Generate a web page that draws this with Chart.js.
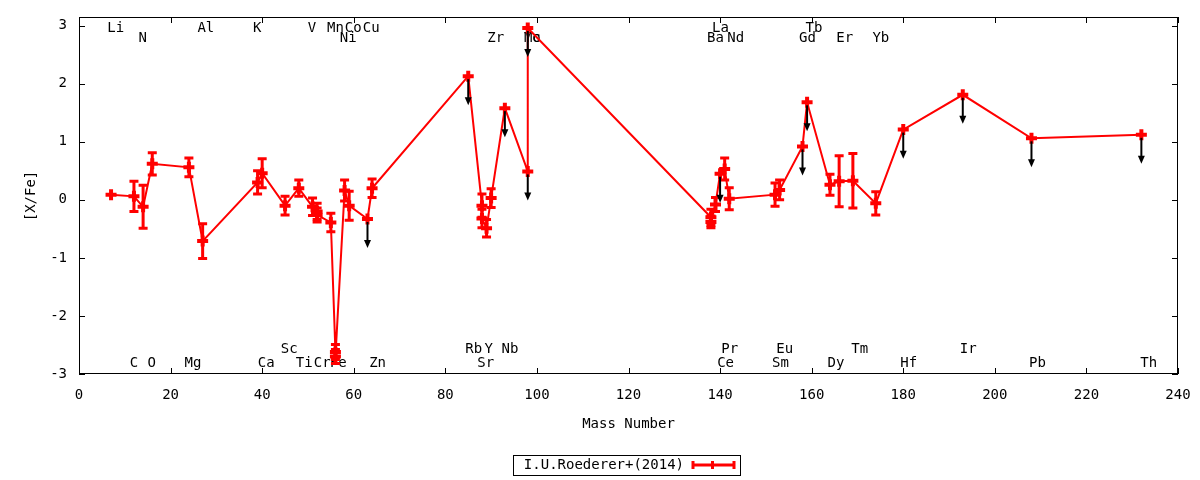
<!DOCTYPE html>
<html>
<head>
<meta charset="utf-8">
<script src="https://cdn.jsdelivr.net/npm/chart.js@4.4.1/dist/chart.umd.min.js"></script>
<style>
  body{margin:0;background:#fff}
  #wrap{width:1200px;height:480px;position:relative}
</style>
</head>
<body>
<div id="wrap"><canvas id="myChart"></canvas></div>
<script>
// 元素 / 質量數 / [X/Fe] / 誤差 / 上限 (1 = upper limit)
const elem  = ['Li','C','N','O','Mg','Al','K','Ca','Sc','Ti','V','Cr','Cr','Mn','Fe','Fe','Ni','Co','Cu','Zn',
               'Rb','Sr','Sr','Y','Zr','Nb','Mo','Tc','Ba','Ba','La','Ce','Pr','Nd','Sm','Eu','Gd','Tb',
               'Dy','Er','Tm','Yb','Hf','Ir','Pb','Th'];
const mass  = [7,12,14,16,24,27,39,40,45,48,51,52,52,55,56,56,58,59,63,64,
               85,88,88,89,90,93,98,98,138,138,139,140,141,142,152,153,158,159,
               164,166,169,174,180,193,208,232];
const xfe   = [0.09,0.06,-0.12,0.62,0.56,-0.71,0.30,0.46,-0.10,0.20,-0.12,-0.20,-0.26,-0.39,-2.62,-2.70,0.16,-0.10,-0.33,0.20,
               2.13,-0.10,-0.32,-0.49,0.03,1.58,0.49,2.96,-0.30,-0.38,-0.08,0.45,0.53,0.02,0.09,0.17,0.92,1.68,
               0.26,0.32,0.33,-0.06,1.21,1.81,1.06,1.12];
const err   = [0,0.26,0.37,0.19,0.16,0.30,0.20,0.25,0.16,0.14,0.15,0.14,0.12,0.16,0.13,0.12,0.18,0.25,0,0.16,
               0,0.20,0.16,0.15,0.16,0,0,0,0.14,0.10,0.12,0,0.19,0.19,0.20,0.17,0,0,
               0.18,0.44,0.47,0.20,0,0,0,0];
const upper = [0,0,0,0,0,0,0,0,0,0,0,0,0,0,0,0,0,0,1,0,
               1,0,0,0,0,1,1,1,0,0,0,1,0,0,0,0,1,1,
               0,0,0,0,1,1,1,1];

const xTicks = [0,20,40,60,80,100,120,140,160,180,200,220,240];
const yTicks = [-3,-2,-1,0,1,2,3];

// element name rows (top two rows, bottom two rows)
const row1Names = ['Li','Al','K','V','Mn','Co','Cu','La','Tb'];
const row1Pos   = [8,27.7,38.9,50.9,56,59.9,63.8,140.1,160.5];
const row2Names = ['N','Ni','Zr','Mo','Tc','Ba','Nd','Gd','Er','Yb'];
const row2Pos   = [13.9,58.8,91,99,99,139,143.4,159.1,167.2,175.1];
const row3Names = ['Sc','Rb','Y','Nb','Pr','Eu','Tm','Ir'];
const row3Pos   = [45.9,86.2,89.5,94.1,142.1,154.1,170.5,194.2];
const row4Names = ['C','O','Mg','Ca','Ti','Cr','Fe','Zn','Sr','Ce','Sm','Dy','Hf','Pb','Th'];
const row4Pos   = [12,15.9,24.9,40.9,49.2,53.1,56.6,65.2,88.8,141.2,153.2,165.3,181.2,209.3,233.6];
const rowY      = [2.96,2.79,-2.57,-2.81];

const FONT = "'DejaVu Sans Mono', monospace";
Chart.defaults.color = '#000';
Chart.defaults.font.family = FONT;
Chart.defaults.font.size = 14;

// 固定軸的尺寸, 不讓刻度文字去撐開
function fixScale(s, size){
  if (s.isHorizontal()) s.height = size; else s.width = size;
  s.paddingTop = 0; s.paddingBottom = 0; s.paddingLeft = 0; s.paddingRight = 0;
}

const decor = {
  id: 'decor',
  beforeDatasetsDraw(chart){
    const {ctx, scales:{x, y}} = chart;
    ctx.save();
    // 元素名
    ctx.font = '14px ' + FONT;
    ctx.fillStyle = '#000';
    ctx.textAlign = 'center';
    ctx.textBaseline = 'middle';
    const rows = [[row1Names,row1Pos],[row2Names,row2Pos],[row3Names,row3Pos],[row4Names,row4Pos]];
    rows.forEach((r,k)=>{
      r[0].forEach((n,i)=>ctx.fillText(n, x.getPixelForValue(r[1][i]), y.getPixelForValue(rowY[k])));
    });
    // error bars
    ctx.strokeStyle = '#ff0000';
    ctx.lineWidth = 3;
    mass.forEach((m,i)=>{
      if(!err[i]) return;
      const px = x.getPixelForValue(m);
      const y1 = y.getPixelForValue(xfe[i]+err[i]);
      const y2 = y.getPixelForValue(xfe[i]-err[i]);
      ctx.beginPath();
      ctx.moveTo(px,y1); ctx.lineTo(px,y2);
      ctx.moveTo(px-4.5,y1); ctx.lineTo(px+4.5,y1);
      ctx.moveTo(px-4.5,y2); ctx.lineTo(px+4.5,y2);
      ctx.stroke();
    });
    ctx.restore();
  },
  afterDatasetsDraw(chart){
    const {ctx, chartArea:a, scales:{x, y}} = chart;
    ctx.save();
    // upper limit arrows
    ctx.strokeStyle = '#000';
    ctx.fillStyle = '#000';
    ctx.lineWidth = 2;
    mass.forEach((m,i)=>{
      if(!upper[i]) return;
      const px = x.getPixelForValue(m);
      const y0 = y.getPixelForValue(xfe[i]);
      const y1 = y.getPixelForValue(xfe[i]-0.5);
      ctx.beginPath(); ctx.moveTo(px,y0+3); ctx.lineTo(px,y1-4); ctx.stroke();
      ctx.beginPath(); ctx.moveTo(px,y1); ctx.lineTo(px-3.5,y1-8); ctx.lineTo(px+3.5,y1-8); ctx.closePath(); ctx.fill();
    });
    // frame and inward ticks
    ctx.lineWidth = 1;
    ctx.strokeRect(a.left+0.5, a.top+0.5, a.right-a.left-1, a.bottom-a.top-1);
    ctx.beginPath();
    xTicks.forEach(v=>{
      const px = Math.round(x.getPixelForValue(v))+0.5;
      ctx.moveTo(px,a.bottom); ctx.lineTo(px,a.bottom-6);
      ctx.moveTo(px,a.top); ctx.lineTo(px,a.top+6);
    });
    yTicks.forEach(v=>{
      const py = Math.round(y.getPixelForValue(v))+0.5;
      ctx.moveTo(a.left,py); ctx.lineTo(a.left+6,py);
      ctx.moveTo(a.right,py); ctx.lineTo(a.right-6,py);
    });
    ctx.stroke();
    // axis titles
    ctx.font = '14px ' + FONT;
    ctx.textAlign = 'center';
    ctx.textBaseline = 'middle';
    ctx.fillText('Mass Number', (a.left+a.right)/2, 424);
    ctx.save();
    ctx.translate(31,196); ctx.rotate(-Math.PI/2);
    ctx.fillText('[X/Fe]', 0, 0);
    ctx.restore();
    // legend
    ctx.strokeRect(513.5, 455.5, 227, 20);
    ctx.textAlign = 'right';
    ctx.fillText('I.U.Roederer+(2014)', 684, 465);
    ctx.strokeStyle = '#ff0000';
    ctx.lineWidth = 3;
    ctx.beginPath();
    ctx.moveTo(692,465); ctx.lineTo(735,465);
    ctx.moveTo(693,461); ctx.lineTo(693,469);
    ctx.moveTo(734,461); ctx.lineTo(734,469);
    ctx.moveTo(712.5,461); ctx.lineTo(712.5,469);
    ctx.stroke();
    ctx.restore();
  }
};

const data = {
  datasets: [{
    label: 'I.U.Roederer+(2014)',
    data: mass.map((m,i)=>({x:m, y:xfe[i]})),
    showLine: true,
    borderColor: '#ff0000',
    backgroundColor: '#ff0000',
    borderWidth: 2,
    tension: 0,
    pointStyle: 'cross',
    pointRadius: 5.5,
    pointBorderWidth: 4,
    pointHoverRadius: 5.5
  }]
};

const config = {
  type: 'scatter',
  data,
  options: {
    responsive: true,
    maintainAspectRatio: false,
    animation: false,
    events: [],
    layout: { padding: { top: 17, right: 22, left: 0, bottom: 0 } },
    scales: {
      x: {
        type: 'linear', min: 0, max: 240,
        afterFit(s){ fixScale(s, 106); },
        afterBuildTicks(s){ s.ticks = xTicks.map(v=>({value:v})); },
        grid: { display: false, drawTicks: false },
        border: { display: false },
        ticks: { padding: 13, maxRotation: 0, autoSkip: false }
      },
      y: {
        type: 'linear', min: -3, max: 3.15,
        afterFit(s){ fixScale(s, 79); },
        afterBuildTicks(s){ s.ticks = yTicks.map(v=>({value:v})); },
        grid: { display: false, drawTicks: false },
        border: { display: false },
        ticks: { padding: 12 }
      }
    },
    plugins: {
      legend: { display: false },
      tooltip: { enabled: false }
    }
  },
  plugins: [decor]
};

const myChart = new Chart(document.getElementById('myChart'), config);
</script>
</body>
</html>
